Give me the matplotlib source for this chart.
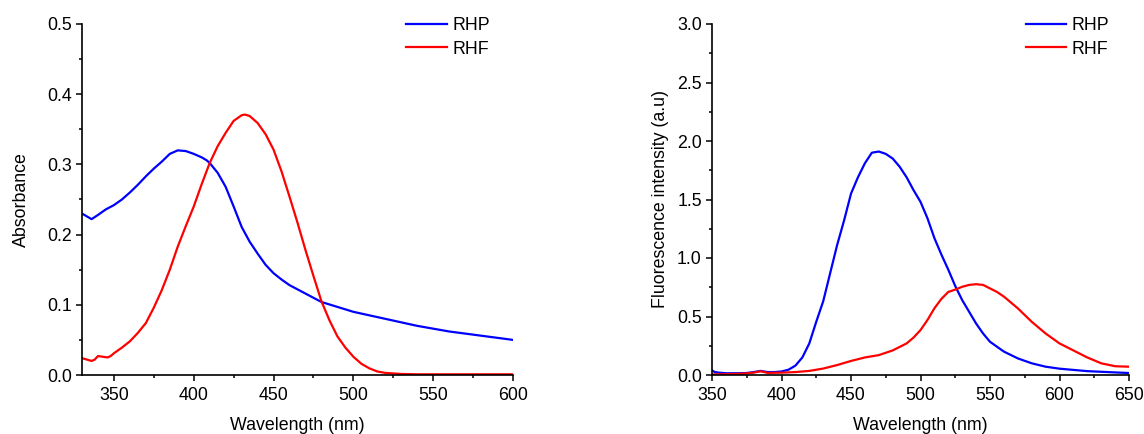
import matplotlib
matplotlib.use("Agg")
import matplotlib.pyplot as plt
from matplotlib.ticker import MultipleLocator

plt.rcParams['font.family'] = ['Liberation Sans', 'DejaVu Sans']

# ---- Absorbance data ----
abs_wl_rhp = [330, 333, 336, 340, 345, 350, 355, 360, 365, 370, 375, 380, 385, 390, 395, 400,
              405, 408, 410, 415, 420, 425, 430, 435, 440, 445, 450, 455, 460, 465, 470, 475,
              480, 490, 500, 510, 520, 530, 540, 550, 560, 570, 580, 590, 600]
abs_rhp = [0.230, 0.226, 0.222, 0.228, 0.236, 0.242, 0.250, 0.260, 0.271, 0.283, 0.294, 0.304,
           0.315, 0.320, 0.319, 0.315, 0.310, 0.306, 0.302, 0.288, 0.268, 0.240, 0.211, 0.190,
           0.173, 0.157, 0.145, 0.136, 0.128, 0.122, 0.116, 0.110, 0.104, 0.097, 0.090, 0.085,
           0.080, 0.075, 0.070, 0.066, 0.062, 0.059, 0.056, 0.053, 0.050]

abs_wl_rhf = [330, 333, 336, 338, 340, 343, 346, 348, 350, 355, 360, 365, 370, 375, 380, 385,
              390, 395, 400, 405, 410, 415, 420, 425, 430, 432, 435, 440, 445, 450, 455, 460,
              465, 470, 475, 480, 485, 490, 495, 500, 505, 510, 515, 520, 530, 540, 560, 580, 600]
abs_rhf = [0.024, 0.022, 0.020, 0.022, 0.027, 0.026, 0.025, 0.027, 0.031, 0.039, 0.048, 0.060,
           0.074, 0.096, 0.121, 0.150, 0.183, 0.212, 0.240, 0.272, 0.302, 0.326, 0.345, 0.362,
           0.370, 0.371, 0.369, 0.359, 0.343, 0.321, 0.290, 0.254, 0.217, 0.178, 0.141, 0.105,
           0.078, 0.055, 0.039, 0.026, 0.016, 0.0095, 0.005, 0.003, 0.0015, 0.001, 0.001,
           0.001, 0.001]

# ---- Fluorescence data ----
fl_wl_rhp = [350, 352, 355, 360, 370, 375, 380, 385, 390, 395, 400, 405, 410, 415, 420, 425,
             430, 435, 440, 445, 450, 455, 460, 465, 470, 475, 480, 485, 490, 495, 500, 505,
             510, 515, 520, 525, 530, 535, 540, 545, 550, 560, 570, 580, 590, 600, 620, 640, 650]
fl_rhp = [0.04, 0.025, 0.02, 0.015, 0.015, 0.017, 0.025, 0.035, 0.025, 0.025, 0.03, 0.045,
          0.08, 0.15, 0.27, 0.455, 0.63, 0.87, 1.11, 1.32, 1.55, 1.69, 1.81, 1.90, 1.91, 1.89,
          1.85, 1.78, 1.69, 1.58, 1.48, 1.34, 1.17, 1.03, 0.90, 0.76, 0.64, 0.54, 0.44, 0.355,
          0.284, 0.20, 0.142, 0.10, 0.071, 0.054, 0.033, 0.022, 0.017]

fl_wl_rhf = [350, 360, 370, 375, 380, 385, 390, 400, 410, 420, 430, 440, 450, 460, 470, 480,
             490, 495, 500, 505, 510, 515, 520, 525, 530, 535, 540, 545, 550, 555, 560, 570,
             580, 590, 600, 610, 620, 630, 640, 650]
fl_rhf = [0.005, 0.007, 0.01, 0.014, 0.02, 0.032, 0.018, 0.02, 0.025, 0.035, 0.055, 0.085,
          0.12, 0.15, 0.17, 0.21, 0.27, 0.32, 0.384, 0.47, 0.57, 0.65, 0.71, 0.73, 0.754, 0.77,
          0.776, 0.77, 0.74, 0.71, 0.67, 0.57, 0.455, 0.355, 0.27, 0.21, 0.15, 0.10, 0.075, 0.071]

series_labels = ['RHP', 'RHF']
colors = ['#0000FF', '#FF0000']
FS = 12.8

fig = plt.figure(figsize=(11.44, 4.34), dpi=100)
ax1 = fig.add_axes([82 / 1144, (434 - 375) / 434, 431 / 1144, 351 / 434])
ax2 = fig.add_axes([712 / 1144, (434 - 375) / 434, 417 / 1144, 351 / 434])

ax1.plot(abs_wl_rhp, abs_rhp, color=colors[0], lw=1.6, label=series_labels[0])
ax1.plot(abs_wl_rhf, abs_rhf, color=colors[1], lw=1.6, label=series_labels[1])
ax2.plot(fl_wl_rhp, fl_rhp, color=colors[0], lw=1.6, label=series_labels[0])
ax2.plot(fl_wl_rhf, fl_rhf, color=colors[1], lw=1.6, label=series_labels[1])

ax1.set_xlim(330, 600)
ax1.set_ylim(0, 0.5)
ax1.xaxis.set_major_locator(MultipleLocator(50))
ax1.xaxis.set_minor_locator(MultipleLocator(25))
ax1.yaxis.set_major_locator(MultipleLocator(0.1))
ax1.yaxis.set_minor_locator(MultipleLocator(0.05))
ax1.set_xlabel('Wavelength (nm)', fontsize=FS, labelpad=10)
ax1.set_ylabel('Absorbance', fontsize=FS, labelpad=12)

ax2.set_xlim(350, 650)
ax2.set_ylim(0, 3.0)
ax2.xaxis.set_major_locator(MultipleLocator(50))
ax2.xaxis.set_minor_locator(MultipleLocator(25))
ax2.yaxis.set_major_locator(MultipleLocator(0.5))
ax2.yaxis.set_minor_locator(MultipleLocator(0.25))
ax2.set_xlabel('Wavelength (nm)', fontsize=FS, labelpad=10)
ax2.set_ylabel('Fluorescence intensity (a.u)', fontsize=FS, labelpad=6)

for ax in (ax1, ax2):
    for s in ('top', 'right'):
        ax.spines[s].set_visible(False)
    for s in ('left', 'bottom'):
        ax.spines[s].set_linewidth(1.2)
    ax.tick_params(which='major', direction='out', length=4.3, width=1.1, labelsize=FS, pad=3)
    ax.tick_params(which='minor', direction='out', length=2.3, width=1.1)
    ax.tick_params(axis='x', which='major', pad=4)
    ax.legend(loc='upper left', bbox_to_anchor=(0.752, 1.019), frameon=False, fontsize=FS,
              handlelength=2.3, handletextpad=0.3, labelspacing=0.35, borderpad=0,
              borderaxespad=0)

fig.savefig('out.png', dpi=100)
